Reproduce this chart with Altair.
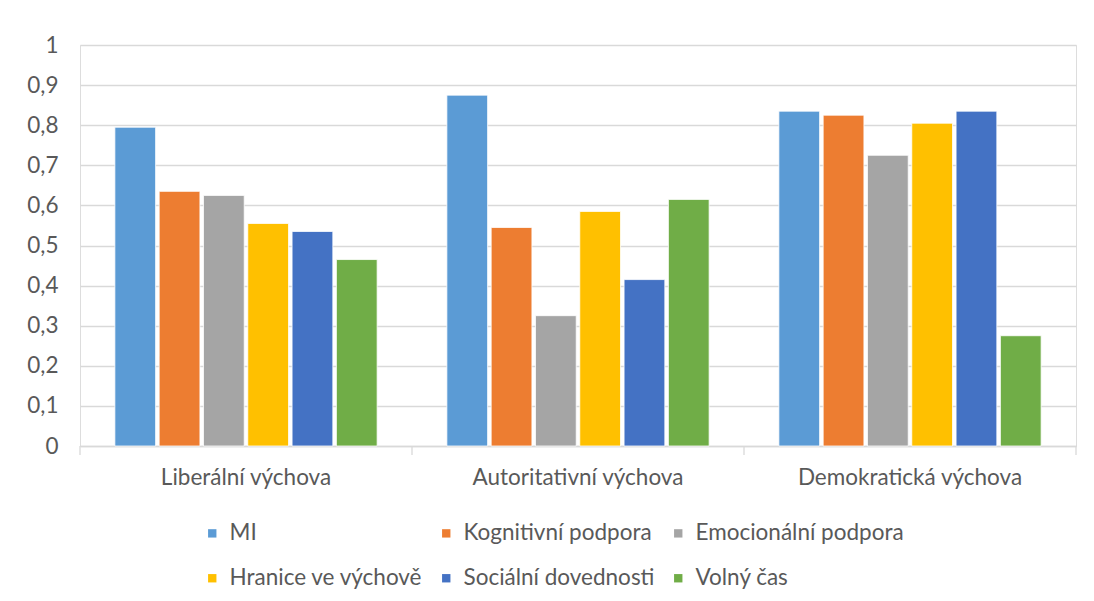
import altair as alt
import pandas as pd

groups = ["Liberální výchova", "Autoritativní výchova", "Demokratická výchova"]
series = ["MI", "Kognitivní podpora", "Emocionální podpora",
          "Hranice ve výchově", "Sociální dovednosti", "Volný čas"]
colors = ["#5B9BD5", "#ED7D31", "#A5A5A5", "#FFC000", "#4472C4", "#70AD47"]

vals_liberalni = [0.795, 0.635, 0.625, 0.555, 0.535, 0.465]
vals_autoritativni = [0.875, 0.545, 0.325, 0.585, 0.415, 0.615]
vals_demokraticka = [0.835, 0.825, 0.725, 0.805, 0.835, 0.275]

# category separators (between groups) for the x axis ticks
separators = [0, 1, 2, 3]

rows = []
for g, vals in zip(groups, [vals_liberalni, vals_autoritativni, vals_demokraticka]):
    for s, v in zip(series, vals):
        rows.append({"group": g, "series": s, "value": v})
df = pd.DataFrame(rows)
sep_df = pd.DataFrame({"b": separators})

FONT = "Lato"
TXT = "#595959"
FS = 22.5

bars = alt.Chart(df).mark_bar(stroke="white", strokeWidth=0.8).encode(
    x=alt.X("group:N", sort=groups, title=None,
            scale=alt.Scale(paddingInner=0.21, paddingOuter=0.105),
            axis=alt.Axis(labelAngle=0, labelFontSize=FS, labelColor=TXT, labelFont=FONT,
                          labelPadding=20, labelLimit=400, ticks=False,
                          domainColor="#d9d9d9", domainWidth=1.3)),
    xOffset=alt.XOffset("series:N", sort=series,
                        scale=alt.Scale(paddingInner=0.08, paddingOuter=0.0)),
    y=alt.Y("value:Q", title=None,
            scale=alt.Scale(domain=[0, 1], nice=False),
            axis=alt.Axis(values=[i / 10 for i in range(11)],
                          labelExpr="replace(format(datum.value, '.1~f'), '.', ',')",
                          labelFontSize=FS, labelColor=TXT, labelFont=FONT,
                          labelPadding=22, ticks=False, domain=False,
                          gridColor="#d9d9d9", gridWidth=1.3)),
    color=alt.Color("series:N", sort=series,
                    scale=alt.Scale(domain=series, range=colors),
                    legend=alt.Legend(title=None, orient="none", legendX=121, legendY=477,
                                      columns=3, direction="horizontal",
                                      symbolType="square", symbolSize=70,
                                      symbolStrokeWidth=0,
                                      labelFontSize=FS, labelColor=TXT, labelFont=FONT,
                                      labelLimit=400, columnPadding=12, rowPadding=22,
                                      labelOffset=6, gridAlign="each")),
)

ticks = alt.Chart(sep_df).mark_rule(color="#d9d9d9", strokeWidth=1.3).encode(
    x=alt.X("b:Q", scale=alt.Scale(domain=[0, 3], nice=False, zero=False), axis=None),
    y=alt.value(401),
    y2=alt.value(410),
)

chart = alt.layer(bars, ticks).resolve_scale(x="independent").properties(
    width=996, height=401,
    autosize=alt.AutoSizeParams(type="none"),
    padding={"left": 72, "top": 37, "right": 10, "bottom": 150},
).configure_view(stroke=None).configure(background="white")

chart.save("out.html", embed_options={"renderer": "svg", "actions": False})
